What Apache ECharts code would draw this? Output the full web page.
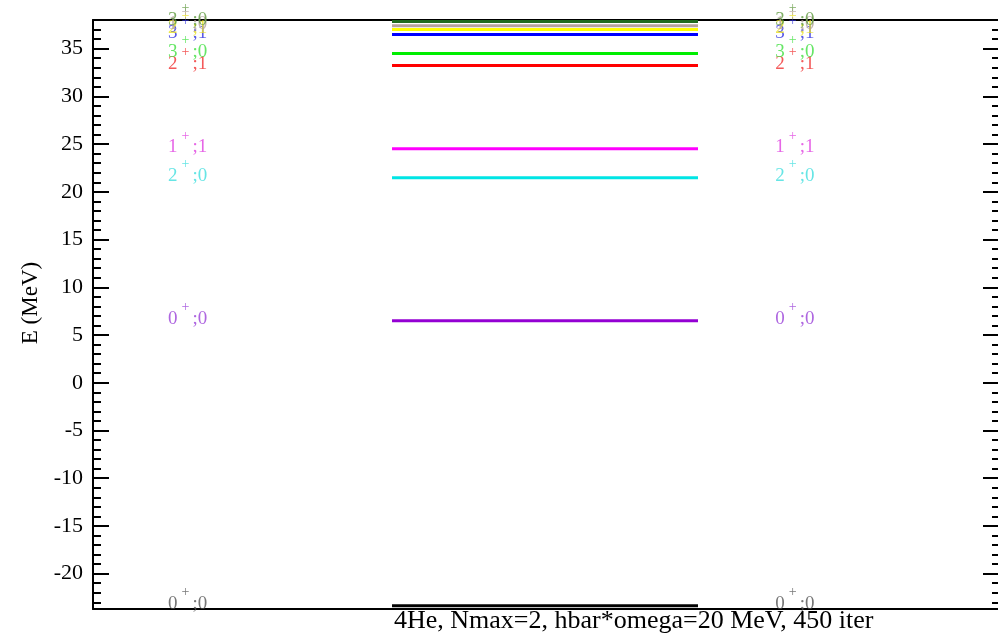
<!DOCTYPE html>
<html>
<head>
<meta charset="utf-8">
<script src="https://cdn.jsdelivr.net/npm/echarts@6/dist/echarts.min.js"></script>
<style>
  html, body { margin: 0; padding: 0; background: #fff; }
  #chart { width: 998px; height: 634px; }
</style>
</head>
<body>
<div id="chart"></div>
<script>
// Level energies (MeV), spin J and isospin T of each computed state
const levelEnergies = [-23.35, 6.49, 21.47, 24.5, 33.23, 34.48, 36.47, 37.0, 37.41, 37.85];
const levelSpins    = ['0', '0', '2', '1', '2', '3', '3', '2', '1', '3'];
const levelIsospins = ['0', '0', '0', '1', '1', '0', '1', '1', '0', '0'];
const levelColors   = ['#000000', '#9400d3', '#00e5e5', '#ff00ff', '#ff0000', '#00ee00',
                       '#0000ff', '#ffff00', '#b4a29c', '#1f6b1f'];
const labelColors   = ['#555555', '#9a40d8', '#40dede', '#e040e0', '#f03030', '#40e040',
                       '#3030e0', '#e8e020', '#b4a29c', '#5f9a3f'];
const yTicksMin = -23.7;
const yTicksMax = 38;
const plotTitle = '4He, Nmax=2, hbar*omega=20 MeV, 450 iter';

// Horizontal layout of the level scheme (x axis units, 0..10)
const LINE_X0 = 3.304, LINE_X1 = 6.685;
const LABEL_LEFT_X = 0.83, LABEL_RIGHT_X = 7.54;

const serif = '"Liberation Serif", "DejaVu Serif", serif';

const series = [];
levelEnergies.forEach((e, i) => {
  series.push({
    type: 'line',
    data: [[LINE_X0, e], [LINE_X1, e]],
    symbol: 'none',
    clip: false,
    silent: true,
    lineStyle: { color: levelColors[i], width: 3 },
    z: 3
  });
});

// J^pi;T labels on both sides of the level scheme
const labelData = [];
levelEnergies.forEach((e, i) => {
  const col = labelColors[i];
  const lab = {
    show: true,
    position: 'inside',
    align: 'left',
    verticalAlign: 'middle',
    offset: [0, -6],
    formatter: '{n|' + levelSpins[i] + '}{s|+}{n|;' + levelIsospins[i] + '}',
    rich: {
      n: { fontFamily: serif, fontSize: 19, color: col, verticalAlign: 'bottom', lineHeight: 28 },
      s: { fontFamily: serif, fontSize: 14, color: col, verticalAlign: 'top', lineHeight: 26, padding: [0, 3, 0, 4] }
    }
  };
  labelData.push({ value: [LABEL_LEFT_X, e], label: lab });
  labelData.push({ value: [LABEL_RIGHT_X, e], label: lab });
});
series.push({
  type: 'scatter',
  data: labelData,
  symbolSize: 0,
  clip: false,
  silent: true,
  z: 4
});

const chart = echarts.init(document.getElementById('chart'), null, { renderer: 'canvas' });

// Energy axes: major ticks every 5 MeV, minor every 1 MeV, on both frame sides
function yAxisOf(position, splitNumber, tickLength, extra) {
  return Object.assign({
    type: 'value', min: yTicksMin, max: yTicksMax, position: position, splitNumber: splitNumber,
    splitLine: { show: false },
    axisLine: { show: false, onZero: false },
    axisTick: { show: true, inside: true, length: tickLength, lineStyle: { color: '#000', width: 2 } },
    axisLabel: { show: false }
  }, extra || {});
}

chart.setOption({
  animation: false,
  backgroundColor: '#ffffff',
  title: {
    text: plotTitle,
    left: 394,
    top: 608,
    padding: 0,
    textStyle: { fontFamily: serif, fontSize: 26, fontWeight: 'normal', color: '#000', lineHeight: 26 }
  },
  grid: { left: 93, right: 0, top: 20, bottom: 25, containLabel: false },
  xAxis: [
    { type: 'value', min: 0, max: 10, position: 'bottom',
      axisLine: { show: true, onZero: false, lineStyle: { color: '#000', width: 2 } },
      axisTick: { show: false }, axisLabel: { show: false }, splitLine: { show: false } },
    { type: 'value', min: 0, max: 10, position: 'top',
      axisLine: { show: true, onZero: false, lineStyle: { color: '#000', width: 2 } },
      axisTick: { show: false }, axisLabel: { show: false }, splitLine: { show: false } }
  ],
  yAxis: [
    yAxisOf('left', 12, 16, {
      name: 'E (MeV)', nameLocation: 'middle', nameGap: 39, nameRotate: 90,
      nameTextStyle: { fontFamily: serif, fontSize: 23, color: '#000', padding: [0, 0, 0, 23] },
      axisLine: { show: true, onZero: false, lineStyle: { color: '#000', width: 2 } },
      axisLabel: { show: true, margin: 10, fontFamily: serif, fontSize: 22, color: '#000',
                   showMinLabel: false, showMaxLabel: false }
    }),
    yAxisOf('left', 62, 8),
    yAxisOf('right', 12, 15),
    yAxisOf('right', 62, 6)
  ],
  series: series
});
</script>
</body>
</html>
